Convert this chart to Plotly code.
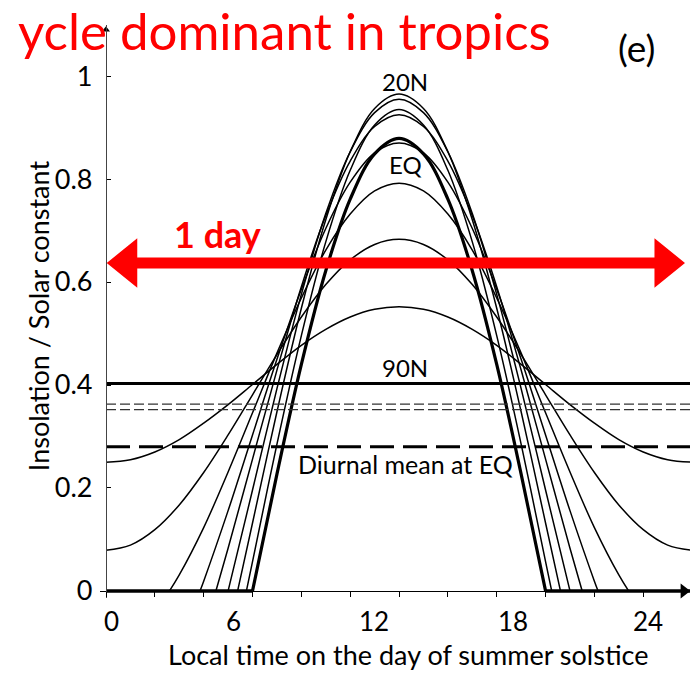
import plotly.graph_objects as go

# ---- insolation / solar constant on the day of the summer solstice ----
# sun never sets at 80N and 70N: hourly values 0..24 h
hours_full = list(range(0, 25))
lat80 = [.250, .255, .270, .294, .326, .362, .401, .440, .477, .508, .532, .547, .552,
         .547, .532, .508, .477, .440, .401, .362, .326, .294, .270, .255, .250]
lat70 = [.079, .089, .119, .167, .230, .303, .381, .459, .532, .595, .643, .673, .683,
         .673, .643, .595, .532, .459, .381, .303, .230, .167, .119, .089, .079]

# daylight-only curves: sunrise, hourly values, sunset
t60 = [2.6] + list(range(3, 22)) + [21.4]
lat60 = [0, .031, .123, .231, .346, .462, .569, .662, .732, .777, .792,
         .777, .732, .662, .569, .462, .346, .231, .123, .031, 0]
t50 = [3.85] + list(range(4, 21)) + [20.15]
lat50 = [0, .019, .156, .303, .450, .586, .704, .794, .851, .870,
         .851, .794, .704, .586, .450, .303, .156, .019, 0]
t40 = [4.5] + list(range(5, 20)) + [19.5]
lat40 = [0, .083, .256, .429, .591, .729, .835, .902, .925,
         .902, .835, .729, .591, .429, .256, .083, 0]
t30 = list(range(5, 20))
lat30 = [0, .196, .393, .576, .733, .853, .929, .955, .929, .853, .733, .576, .393, .196, 0]
t20 = [5.39] + list(range(6, 19)) + [18.61]
lat20 = [0, .132, .348, .549, .721, .853, .937, .965, .937, .853, .721, .549, .348, .132, 0]
t10 = [5.75] + list(range(6, 19)) + [18.25]
lat10 = [0, .057, .285, .496, .678, .817, .905, .935, .905, .817, .678, .496, .285, .057, 0]
tEQ = list(range(6, 19))
latEQ = [0, .227, .440, .622, .761, .849, .879, .849, .761, .622, .440, .227, 0]
eq_night_x = [0, 6, None, 18, 24]
eq_night_y = [0, 0, None, 0, 0]

# diurnal means
mean_90N = 0.403
mean_hi_a = 0.363
mean_hi_b = 0.352
mean_EQ = 0.280

# "1 day" arrow
day_arrow_x = [0.03, 23.71]
day_arrow_y = 0.637

y_ticks = [0, 0.2, 0.4, 0.6, 0.8, 1]
y_ticktext = ["0", "0.2", "0.4", "0.6", "0.8", "1"]
x_big_labels = ["0", "6", "12", "18", "24"]
x_big_label_px = [112, 233, 374, 513, 648]

W, H = 690, 678
X0, PXH = 106, 24.42      # pixel of hour 0, pixels per hour
Y0, PYU = 598, 521        # pixel of value 0, pixels per unit
FONT = "Lato"

fig = go.Figure()

thin = dict(color="black", width=1.5)
for tx, ty in [(hours_full, lat80), (hours_full, lat70), (t60, lat60), (t50, lat50),
               (t40, lat40), (t30, lat30), (t20, lat20), (t10, lat10)]:
    fig.add_trace(go.Scatter(x=tx, y=ty, mode="lines", line=dict(shape="spline", **thin),
                             hoverinfo="skip", showlegend=False))
fig.add_trace(go.Scatter(x=tEQ, y=latEQ, mode="lines",
                         line=dict(shape="spline", color="black", width=3.2),
                         hoverinfo="skip", showlegend=False))
fig.add_trace(go.Scatter(x=eq_night_x, y=eq_night_y, mode="lines",
                         line=dict(color="black", width=3.6),
                         hoverinfo="skip", showlegend=False))

# horizontal diurnal-mean lines
span = [0, 24]
fig.add_trace(go.Scatter(x=span, y=[mean_90N] * 2, mode="lines",
                         line=dict(color="black", width=3), showlegend=False, hoverinfo="skip"))
for m in (mean_hi_a, mean_hi_b):
    fig.add_trace(go.Scatter(x=span, y=[m] * 2, mode="lines",
                             line=dict(color="#333", width=1.2, dash="10px,4px"),
                             showlegend=False, hoverinfo="skip"))
fig.add_trace(go.Scatter(x=span, y=[mean_EQ] * 2, mode="lines",
                         line=dict(color="black", width=3, dash="24px,9px"),
                         showlegend=False, hoverinfo="skip"))

# axis arrowheads
xr = (W - X0) / PXH
fig.add_trace(go.Scatter(x=[xr - 0.25], y=[0], mode="markers", cliponaxis=False,
                         marker=dict(symbol="triangle-right", size=13, color="black"),
                         showlegend=False, hoverinfo="skip"))
fig.add_trace(go.Scatter(x=[0], y=[(Y0 - 30) / PYU], mode="markers", cliponaxis=False,
                         marker=dict(symbol="triangle-up", size=7, color="black"),
                         showlegend=False, hoverinfo="skip"))

# red double-headed "1 day" arrow
xa, xb = day_arrow_x
yc = day_arrow_y
hl = 1.25            # head length (hours)
hh = 25 / PYU        # head half height
sh = 5.5 / PYU       # shaft half thickness
path = (f"M {xa},{yc} L {xa+hl},{yc+hh} L {xa+hl},{yc+sh} L {xb-hl},{yc+sh} "
        f"L {xb-hl},{yc+hh} L {xb},{yc} L {xb-hl},{yc-hh} L {xb-hl},{yc-sh} "
        f"L {xa+hl},{yc-sh} L {xa+hl},{yc-hh} Z")
fig.add_shape(type="path", path=path, xref="x", yref="y",
              fillcolor="#ff0000", line=dict(width=0))


def px(xp):
    return xp / W


def py(yp):
    return 1 - yp / H


def label(text, xp, yp, size, color="black", xanchor="center", **kw):
    return dict(text=text, x=px(xp), y=py(yp), xref="paper", yref="paper",
                xanchor=xanchor, yanchor="middle", showarrow=False,
                font=dict(family=FONT, size=size, color=color), **kw)


ann = [
    label("ycle dominant in tropics", 553, 31, 51, color="#ff0000", xanchor="right"),
    label("(e)", 636, 48, 37),
    label("<b>1 day</b>", 217, 237, 36, color="#ff0000"),
    label("20N", 405, 82, 24),
    label("EQ", 405, 166, 24),
    label("90N", 405, 372, 24),
    label("Diurnal mean at EQ", 405, 470, 25),
    label("Local time on the day of summer solstice", 408, 662, 27),
    label("Insolation / Solar constant", 38, 320, 27, textangle=-90),
]
for txt, xp in zip(x_big_labels, x_big_label_px):
    ann.append(label(txt, xp, 628, 26))

x_left, y_bot, y_top = 100, 605, 25
fig.update_layout(
    width=W, height=H, margin=dict(l=0, r=0, t=0, b=0),
    paper_bgcolor="white", plot_bgcolor="white",
    annotations=ann, showlegend=False,
    xaxis=dict(domain=[px(x_left), 1], range=[(x_left - X0) / PXH, xr],
               anchor="free", position=py(Y0), showgrid=False, zeroline=False,
               showline=True, linecolor="black", linewidth=1.3,
               tickvals=list(range(0, 25, 2)), ticks="outside", ticklen=5,
               tickcolor="black", showticklabels=False),
    yaxis=dict(domain=[py(y_bot), py(y_top)], range=[(Y0 - y_bot) / PYU, (Y0 - y_top) / PYU],
               anchor="free", position=px(X0), showgrid=False, zeroline=False,
               showline=True, linecolor="#444", linewidth=1.3,
               tickvals=y_ticks, ticktext=y_ticktext, ticks="inside", ticklen=4,
               tickcolor="black", ticklabelstandoff=8,
               tickfont=dict(family=FONT, size=27, color="black")),
)

fig.write_html("out.html")
